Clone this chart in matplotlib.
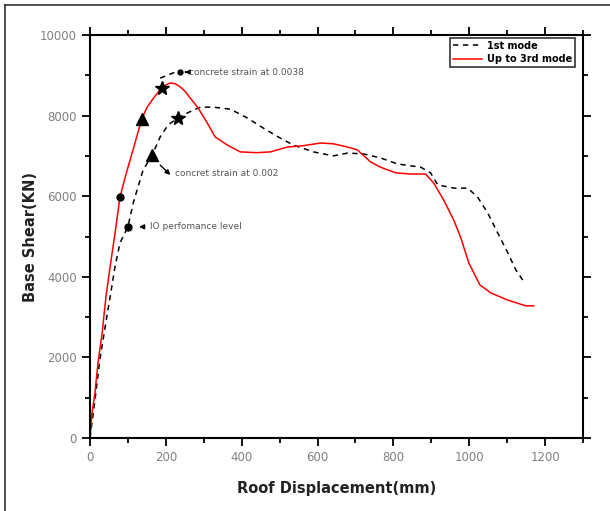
import matplotlib.pyplot as plt
from matplotlib.ticker import MultipleLocator
from matplotlib.lines import Line2D

# pushover curves
mode1_x = [0, 13, 26, 40, 53, 66, 79, 100, 114, 119, 140, 164, 185, 206, 232, 260, 291, 325, 370,
           415, 457, 502, 536, 589, 642, 679, 721, 766, 811, 872, 898, 917, 960, 996, 1022, 1049,
           1075, 1102, 1123, 1141]
mode1_y = [0, 940, 1940, 2760, 3500, 4250, 4840, 5240, 5830, 5990, 6650, 7020, 7470, 7770, 7940,
           8080, 8210, 8210, 8160, 7940, 7690, 7440, 7270, 7100, 7000, 7070, 7050, 6950, 6800, 6720,
           6580, 6280, 6200, 6200, 5980, 5580, 5090, 4590, 4170, 3920]

mode3_x = [0, 5, 13, 21, 32, 42, 53, 66, 79, 95, 111, 124, 137, 150, 164, 177, 190, 200, 211, 225,
           238, 251, 264, 285, 309, 330, 362, 396, 440, 476, 520, 560, 608, 642, 675, 705, 740, 766,
           806, 845, 885, 906, 933, 959, 977, 999, 1028, 1057, 1102, 1149, 1170]
mode3_y = [0, 600, 1110, 1860, 2600, 3500, 4250, 5080, 5980, 6550, 7070, 7500, 7920, 8200, 8390,
           8550, 8680, 8760, 8810, 8790, 8710, 8600, 8440, 8190, 7820, 7470, 7270, 7100, 7080, 7100,
           7220, 7250, 7320, 7300, 7230, 7150, 6850, 6720, 6580, 6550, 6550, 6330, 5900, 5410, 4990,
           4340, 3800, 3600, 3420, 3280, 3280]

# performance points: IO level, strain 0.002, strain 0.0038
io_pts = [(79, 5980), (100, 5240)]
tri_pts = [(137, 7920), (164, 7020)]
star_pts = [(190, 8680), (232, 7940)]

leader_x = [185, 225]
leader_y = [8930, 9080]

fig = plt.figure(figsize=(6.1, 5.11), dpi=100)
ax = fig.add_axes([90 / 610, 1 - 438 / 511, 493 / 610, 403 / 511])

ax.plot(mode1_x, mode1_y, color='black', lw=1.1, ls=(0, (3.5, 3)), label='1st mode')
ax.plot(mode3_x, mode3_y, color='#ff0000', lw=1.1, label='Up to 3rd mode')

for x, y in io_pts:
    ax.plot(x, y, 'o', color='black', ms=5)
for x, y in tri_pts:
    ax.plot(x, y, '^', color='black', ms=9)
for x, y in star_pts:
    ax.plot(x, y, '*', color='black', ms=10)

ax.plot(leader_x, leader_y, color='black', lw=1.1, ls=(0, (3.5, 3)))
ax.plot(238, 9080, 'o', color='black', ms=3.5)

txt = dict(fontsize=6.5, color='#555555', va='center', ha='left')
arr = dict(arrowstyle='-|>', color='black', lw=1, mutation_scale=7)
ax.annotate('', xy=(243, 9080), xytext=(260, 9080), arrowprops=arr)
ax.text(262, 9080, 'concrete strain at 0.0038', **txt)
ax.annotate('', xy=(217, 6480), xytext=(180, 6820), arrowprops=arr)
ax.text(225, 6570, 'concret strain at 0.002', **txt)
ax.annotate('', xy=(122, 5240), xytext=(152, 5240), arrowprops=arr)
ax.text(157, 5240, 'IO perfomance level', **txt)

ax.set_xlim(0, 1300)
ax.set_ylim(0, 10000)
ax.xaxis.set_major_locator(MultipleLocator(200))
ax.xaxis.set_minor_locator(MultipleLocator(100))
ax.yaxis.set_major_locator(MultipleLocator(2000))
ax.yaxis.set_minor_locator(MultipleLocator(1000))
ax.tick_params(which='both', direction='out', top=True, right=True, width=1.3,
               labelsize=8.5, labelcolor='#808080')
ax.tick_params(which='major', length=6)
ax.tick_params(which='minor', length=3.5)
for s in ax.spines.values():
    s.set_linewidth(1.5)

ax.set_xlabel('Roof Displacement(mm)', fontsize=10.5, fontweight='bold', color='#222222', labelpad=12)
ax.set_ylabel('Base Shear(KN)', fontsize=10.5, fontweight='bold', color='#222222', labelpad=1)

leg = ax.legend(loc='upper right', bbox_to_anchor=(0.984, 0.993),
                prop={'size': 7, 'weight': 'bold'}, frameon=True,
                fancybox=False, edgecolor='black', handlelength=3, borderpad=0.3,
                labelspacing=0.35, handletextpad=0.5, borderaxespad=0)
leg.get_frame().set_linewidth(1.2)

# outer frame (left and top only)
fig.add_artist(Line2D([5 / 610, 5 / 610], [0, 1 - 5 / 511], color='#333333', lw=1.2))
fig.add_artist(Line2D([5 / 610, 1], [1 - 5 / 511, 1 - 5 / 511], color='#333333', lw=1.2))

fig.savefig('out.png', dpi=100)
